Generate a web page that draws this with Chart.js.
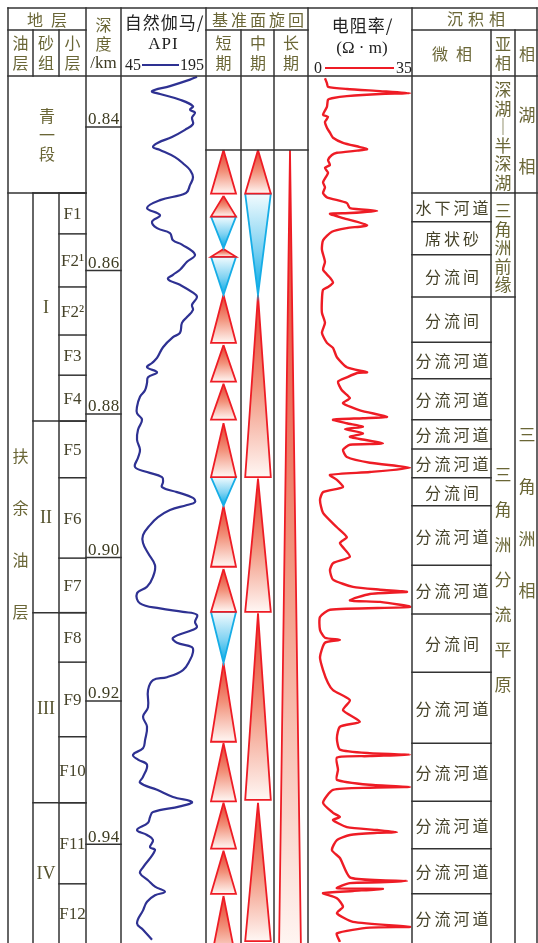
<!DOCTYPE html>
<html lang="zh"><head><meta charset="utf-8"><title>扶余油层综合柱状图</title>
<script src="https://cdn.jsdelivr.net/npm/chart.js@4.4.1/dist/chart.umd.min.js"></script>
<style>
html,body{margin:0;padding:0;background:#fff;}
#wrap{position:relative;width:538px;height:943px;overflow:hidden;background:#fff;}
#c{position:absolute;left:0;top:0;width:538px;height:943px;}
.t{position:absolute;white-space:nowrap;line-height:1;transform:translate(-50%,-50%);}
.lg{position:absolute;height:2px;}
</style></head>
<body><div id="wrap"><canvas id="c" width="538" height="943"></canvas></div>
<script>
// ================= DATA =================
// depth in metres (axis labelled in km)
const grDepth = [833.0,833.4,834.3,835.0,835.4,836.2,837.1,837.6,838.0,838.7,
839.6,840.4,841.4,842.2,842.8,843.2,844.2,845.3,846.0,847.0,
848.1,849.2,850.2,851.3,852.3,853.2,854.1,854.8,855.8,856.4,
857.8,858.8,859.9,860.6,861.2,862.0,863.1,863.7,864.8,865.5,
866.5,867.3,868.7,869.3,870.7,872.2,872.9,873.5,874.2,874.9,
875.7,876.7,877.6,879.0,879.9,880.8,882.2,883.6,885.0,886.1,
887.4,888.1,888.8,889.5,890.2,890.9,891.7,892.3,892.7,893.4,
894.4,895.5,896.9,898.0,899.4,901.1,902.7,904.1,905.0,906.4,
907.1,907.6,908.0,909.0,909.7,910.1,911.2,911.9,912.5,913.2,
914.3,915.7,916.7,917.1,918.5,920.9,922.2,923.6,925.5,926.6,
927.5,928.2,928.9,930.6,931.4,932.4,933.4,934.1,934.7,935.5,
936.2,937.0,938.0,938.7,939.4,940.4,940.8,943.2,944.0,945.0,
945.9,946.6,947.1,948.0,949.2,951.0,951.9,953.3];
const grValue = [183.6,170.3,132.3,98.2,113.4,151.3,176.0,170.3,179.8,174.1,
176.0,160.8,136.1,109.6,100.1,113.4,141.8,160.8,170.3,176.0,
170.3,162.7,113.4,88.7,113.4,98.2,107.7,132.3,138.0,155.1,
179.8,164.6,151.3,138.0,128.5,151.3,176.0,183.6,174.1,176.0,
164.6,155.1,151.3,138.0,119.1,107.7,98.2,88.7,107.7,90.6,
88.7,84.9,75.4,69.7,69.7,79.2,71.6,69.7,75.4,71.6,
65.9,88.7,117.2,119.1,117.2,145.6,176.0,179.8,164.6,132.3,
109.6,94.4,81.1,81.1,90.6,103.9,100.1,88.7,69.7,75.4,
113.4,157.0,183.6,179.8,183.6,176.0,138.0,145.6,174.1,176.0,
170.3,157.0,126.6,100.1,90.6,90.6,81.1,88.7,84.9,81.1,
62.1,71.6,88.7,81.1,75.4,107.7,138.0,174.1,151.3,100.1,
94.4,90.6,69.7,88.7,100.1,94.4,103.9,81.1,75.4,90.6,
103.9,122.8,103.9,88.7,81.1,69.7,81.1,98.2];

const rtDepth = [833.2,833.9,834.4,834.7,835.0,835.3,835.4,835.7,836.0,836.2,
837.2,838.3,838.6,839.3,840.1,840.8,841.5,842.2,842.8,843.1,
843.3,843.6,843.9,844.6,845.3,845.7,846.4,847.7,848.4,849.2,
849.8,850.6,851.3,851.7,852.0,852.1,852.7,853.7,854.1,854.6,
855.8,857.1,858.8,859.9,861.0,861.7,862.3,862.7,864.1,865.9,
867.3,868.7,870.1,870.8,872.1,873.5,874.2,874.3,874.9,875.5,
876.7,877.8,878.5,879.5,880.4,880.6,880.8,881.3,881.8,882.1,
882.7,883.2,884.1,884.3,885.0,886.0,886.8,887.5,888.1,888.5,
889.2,890.2,890.9,892.0,893.8,895.8,897.2,898.0,899.9,900.8,
901.8,903.1,904.1,904.5,904.8,905.1,906.0,906.2,906.9,907.3,
908.3,910.1,911.2,911.5,911.9,913.9,915.7,917.5,918.5,919.9,
921.3,922.9,923.6,925.2,926.8,927.3,927.5,927.7,927.9,929.6,
931.0,931.7,932.0,932.1,932.4,934.2,935.6,936.2,936.6,937.6,
938.0,938.3,938.4,938.7,939.4,940.8,941.9,944.6,945.0,945.1,
945.3,945.4,946.1,946.2,946.5,946.8,947.5,948.7,949.6,950.8,
951.5,951.6,952.4,953.6];
const rtValue = [3.6,4.3,4.7,11.5,23.5,34.3,23.5,11.5,6.1,4.7,
4.3,2.9,4.7,3.6,4.3,5.4,6.5,10.1,16.2,18.8,
15.2,7.9,6.1,4.7,5.4,3.6,4.7,2.9,3.6,2.9,
4.3,11.5,12.6,22.4,12.6,5.4,10.1,18.8,11.5,6.1,
2.9,2.5,3.6,2.9,5.4,6.5,4.7,2.9,2.5,2.5,
3.6,2.5,4.3,6.5,7.9,11.5,18.8,15.2,11.5,8.3,
9.7,12.6,10.1,16.2,26.0,17.3,6.5,11.5,17.3,10.8,
17.3,12.6,24.5,12.6,10.1,11.5,19.8,34.3,19.8,5.4,
7.9,10.1,2.9,1.8,2.9,7.9,11.5,9.0,12.6,6.5,
5.4,6.5,13.7,23.5,33.2,19.8,12.6,23.5,34.3,5.4,
1.8,1.8,3.6,9.0,3.6,1.8,2.9,4.7,6.5,12.6,
10.1,16.2,9.0,7.9,9.0,19.8,34.3,19.8,7.9,8.3,
7.9,19.8,34.3,19.8,6.5,2.9,6.5,9.0,6.5,11.5,
22.4,29.6,22.4,12.6,7.9,6.1,9.0,12.6,23.5,33.2,
23.5,12.6,7.9,24.5,13.7,2.9,7.9,10.1,7.9,13.7,
34.3,19.8,7.9,9.0];

const grRange = [45, 195];
const rtRange = [0, 35];
const depthTicks = [840, 860, 880, 900, 920, 940];
const depthTickLabels = ['0.84', '0.86', '0.88', '0.90', '0.92', '0.94'];

// stratigraphy
const unitTop = 849.2;                 // base of 青一段 / top of 扶余油层
const sandNames = ['I', 'II', 'III', 'IV'];
const sandTops = [849.2, 881.0, 907.7, 934.2];
const layerNames = ['F1','F2¹','F2²','F3','F4','F5','F6','F7','F8','F9','F10','F11','F12'];
const layerTops = [849.2,854.9,862.3,869.0,874.6,881.0,888.9,900.1,907.7,914.6,925.0,934.2,945.5];

// microfacies
const microNames = ['水下河道','席状砂','分流间','分流间','分流河道','分流河道','分流河道','分流河道',
  '分流间','分流河道','分流河道','分流间','分流河道','分流河道','分流河道','分流河道','分流河道'];
const microTops = [849.2,853.2,857.8,863.7,870.0,875.1,880.8,884.9,888.9,892.8,901.1,907.9,916.0,925.9,934.0,940.6,946.9];
const subTops = [849.2, 863.7];

// base-level cycles: R = rising (apex up), B = falling (apex down)
const cycleTopLine = 843.2;
const shortKind = ['R','R','B','R','B','R','R','R','R','B','R','R','B','R','R','R','R','R'];
const shortTop  = [843.2,849.6,852.5,857.0,858.1,863.4,870.4,875.8,881.3,888.8,892.8,901.6,907.6,914.7,925.9,934.2,940.9,947.2];
const shortBase = [849.3,852.5,856.9,858.1,863.4,870.1,875.5,880.8,888.8,892.8,901.3,907.6,914.7,925.7,934.0,940.6,946.9,956.1];
const midKind = ['R','B','R','R','R','R'];
const midTop  = [843.2,849.3,863.4,889.0,907.8,934.2];
const midBase = [849.3,863.4,888.8,907.6,933.8,953.5];
const longKind = ['R'];
const longTop  = [843.2];
const longBase = [955.0];

// ================= LAYOUT / STYLE =================
const W = 538;
const view = { top: 822.3, bottom: 953.75 };
const C = {left:8, sand:33, layer:59, depth:86, gr:121, short:206, mid:241, long:274, rt:308,
           micro:412, sub:491, fac:515, right:537, top:8, row:30, head:76};
const grPx = [124, 203], rtPx = [315, 412];
const OLIVE = '#6a6636', BODY = '#46432a', DARK = '#222', GRID = '#333';
const CJK = '"Noto Sans CJK SC","Noto Sans CJK JP",sans-serif';
const SERIF = '"Liberation Serif","DejaVu Serif",serif';
const RED = '#ee1c25', CYAN = '#16ade6', GRCOL = '#2e3192';

function scaleRange(range, px) {
  const k = (range[1] - range[0]) / (px[1] - px[0]);
  const min = range[0] - px[0] * k;
  return { min, max: min + W * k };
}
const grS = scaleRange(grRange, grPx), rtS = scaleRange(rtRange, rtPx);

function triGradient(ctx, kind, top, base) {
  const ch = ctx.chart, s = ch.scales && ch.scales.y;
  if (!s || !ch.chartArea) return kind === 'R' ? '#f4a090' : '#80d4f2';
  const y1 = s.getPixelForValue(top), y2 = s.getPixelForValue(base);
  const g = ch.ctx.createLinearGradient(0, y1, 0, y2);
  if (kind === 'R') { g.addColorStop(0, '#e63c2a'); g.addColorStop(0.5, '#f2927b'); g.addColorStop(1, '#fff7f4'); }
  else { g.addColorStop(0, '#f2fbfe'); g.addColorStop(0.55, '#7fd2f2'); g.addColorStop(1, '#00a9e6'); }
  return g;
}

const datasets = [];
function addCycles(kinds, tops, bases, cx, hw) {
  kinds.forEach((kind, i) => {
    const top = tops[i], base = bases[i];
    const pts = kind === 'R'
      ? [{x: cx, y: top}, {x: cx + hw, y: base}, {x: cx - hw, y: base}, {x: cx, y: top}]
      : [{x: cx - hw, y: top}, {x: cx + hw, y: top}, {x: cx, y: base}, {x: cx - hw, y: top}];
    datasets.push({
      data: pts, xAxisID: 'x', yAxisID: 'y', fill: 'shape', tension: 0,
      borderColor: kind === 'R' ? RED : CYAN, borderWidth: 1.8, borderJoinStyle: 'miter',
      pointRadius: 0, backgroundColor: (c) => triGradient(c, kind, top, base)
    });
  });
}
addCycles(shortKind, shortTop, shortBase, 223.5, 12.5);
addCycles(midKind, midTop, midBase, 258, 12.8);
addCycles(longKind, longTop, longBase, 290, 11);

datasets.push({
  data: grDepth.map((d, i) => ({x: grValue[i], y: d})), xAxisID: 'xgr', yAxisID: 'y',
  borderColor: GRCOL, borderWidth: 2.2, tension: 0.4, fill: false, pointRadius: 0
});
datasets.push({
  data: rtDepth.map((d, i) => ({x: rtValue[i], y: d})), xAxisID: 'xrt', yAxisID: 'y',
  borderColor: RED, borderWidth: 2.4, tension: 0.2, fill: false, pointRadius: 0
});

const gridPlugin = {
  id: 'grid',
  afterDatasetsDraw(chart) {
    const ctx = chart.ctx, Y = v => chart.scales.y.getPixelForValue(v), B = chart.height;
    ctx.save(); ctx.strokeStyle = GRID; ctx.lineWidth = 1.5; ctx.lineCap = 'square';
    const H = (y, a, b) => { ctx.beginPath(); ctx.moveTo(a, y); ctx.lineTo(b, y); ctx.stroke(); };
    const V = (x, a, b) => { ctx.beginPath(); ctx.moveTo(x, a); ctx.lineTo(x, b); ctx.stroke(); };
    [C.left, C.depth, C.gr, C.short, C.rt, C.micro, C.right].forEach(x => V(x, C.top, B));
    [C.mid, C.long, C.sub, C.fac].forEach(x => V(x, C.row, B));
    [C.sand, C.layer].forEach(x => { V(x, C.row, C.head); V(x, Y(unitTop), B); });
    H(C.top, C.left, C.right);
    H(C.row, C.left, C.depth); H(C.row, C.short, C.rt); H(C.row, C.micro, C.right);
    H(C.head, C.left, C.right);
    H(Y(unitTop), C.left, C.depth);
    layerTops.forEach(d => H(Y(d), C.layer, C.depth));
    sandTops.forEach(d => H(Y(d), C.sand, C.depth));
    depthTicks.forEach(d => H(Y(d), C.depth, C.gr));
    H(Y(cycleTopLine), C.short, C.rt);
    microTops.forEach(d => H(Y(d), C.micro, C.sub));
    subTops.forEach(d => H(Y(d), C.sub, C.fac));
    H(Y(unitTop), C.fac, C.right);
    ctx.restore();
  }
};

const chart = new Chart(document.getElementById('c'), {
  type: 'line',
  data: { datasets },
  options: {
    responsive: false, animation: false, devicePixelRatio: 1,
    layout: { autoPadding: false, padding: 0 },
    plugins: { legend: { display: false }, tooltip: { enabled: false } },
    elements: { point: { radius: 0 } },
    scales: {
      y: { type: 'linear', reverse: true, min: view.top, max: view.bottom, display: false },
      x: { type: 'linear', axis: 'x', min: 0, max: W, display: false },
      xgr: { type: 'linear', axis: 'x', min: grS.min, max: grS.max, display: false },
      xrt: { type: 'linear', axis: 'x', min: rtS.min, max: rtS.max, display: false }
    }
  },
  plugins: [gridPlugin]
});

// ================= TEXT =================
const wrap = document.getElementById('wrap');
const Y = v => chart.scales.y.getPixelForValue(v);
function txt(s, x, y, o = {}) {
  const d = document.createElement('div');
  d.className = 't'; d.textContent = s;
  d.style.left = x + 'px'; d.style.top = y + 'px';
  d.style.fontSize = (o.size || 16) + 'px';
  d.style.fontFamily = o.serif ? SERIF : CJK;
  d.style.color = o.color || OLIVE;
  if (o.ls) { d.style.letterSpacing = o.ls + 'px'; d.style.paddingLeft = o.ls + 'px'; }
  wrap.appendChild(d);
}
function vtxt(s, x, yc, pitch, o) {
  const a = Array.from(s);
  a.forEach((ch, i) => txt(ch, x, yc + (i - (a.length - 1) / 2) * pitch, o));
}
function legendLine(x1, x2, y, col) {
  const d = document.createElement('div');
  d.className = 'lg'; d.style.left = x1 + 'px'; d.style.width = (x2 - x1) + 'px';
  d.style.top = (y - 1) + 'px'; d.style.background = col; wrap.appendChild(d);
}

// header
txt('地层', 47, 19, {ls: 8});
vtxt('油层', 20.5, 51.5, 20); vtxt('砂组', 46, 51.5, 20); vtxt('小层', 72.5, 51.5, 20);
txt('深', 103.5, 24); txt('度', 103.5, 43); txt('/km', 103.5, 62, {serif: true, size: 17, color: '#3c3a22'});
txt('自然伽马/', 164, 21, {size: 17, color: DARK, ls: 1});
txt('API', 163, 43, {serif: true, size: 17, color: DARK, ls: 1});
txt('45', 133, 65, {serif: true, size: 16, color: DARK});
txt('195', 192, 65, {serif: true, size: 16, color: DARK});
legendLine(142, 179, 65, GRCOL);
txt('基准面旋回', 258, 19, {ls: 3});
vtxt('短期', 223.5, 52, 20); vtxt('中期', 258, 52, 20); vtxt('长期', 291, 52, 20);
txt('电阻率/', 362, 24, {size: 17, color: DARK, ls: 1});
txt('(Ω · m)', 362, 47, {serif: true, size: 17, color: DARK});
txt('0', 318, 68, {serif: true, size: 16, color: DARK});
txt('35', 404, 68, {serif: true, size: 16, color: DARK});
legendLine(325, 394, 68, RED);
txt('沉积相', 476, 18, {ls: 5});
txt('微相', 452, 53, {ls: 8});
vtxt('亚相', 503, 52, 19);
txt('相', 527, 53);

// stratigraphy
vtxt('青一段', 47, 134, 19);
vtxt('扶余油层', 20.5, 533, 52);
const mid = (a, b) => (Y(a) + Y(Math.min(b, view.bottom))) / 2;
sandNames.forEach((n, i) => txt(n, 46, mid(sandTops[i], sandTops[i + 1] ?? view.bottom), {serif: true, size: 18, color: '#55522e'}));
layerNames.forEach((n, i) => txt(n, 72.5, mid(layerTops[i], layerTops[i + 1] ?? view.bottom), {serif: true, size: 17, color: BODY}));
depthTicks.forEach((d, i) => txt(depthTickLabels[i], 103.5, Y(d) - 8.5, {serif: true, size: 17, color: '#3e3c22', ls: 0.5}));

// facies
microNames.forEach((n, i) => txt(n, 452, mid(microTops[i], microTops[i + 1] ?? view.bottom), {color: BODY, ls: 3}));
vtxt('深湖│半深湖', 503, 134.5, 18.5, {size: 17});
vtxt('三角洲前缘', 503, 246, 18.5, {size: 17});
vtxt('三角洲分流平原', 503, 578, 35, {size: 17});
vtxt('湖相', 527, 139, 52, {size: 17});
vtxt('三角洲相', 527, 511, 52, {size: 17});
</script></body></html>
